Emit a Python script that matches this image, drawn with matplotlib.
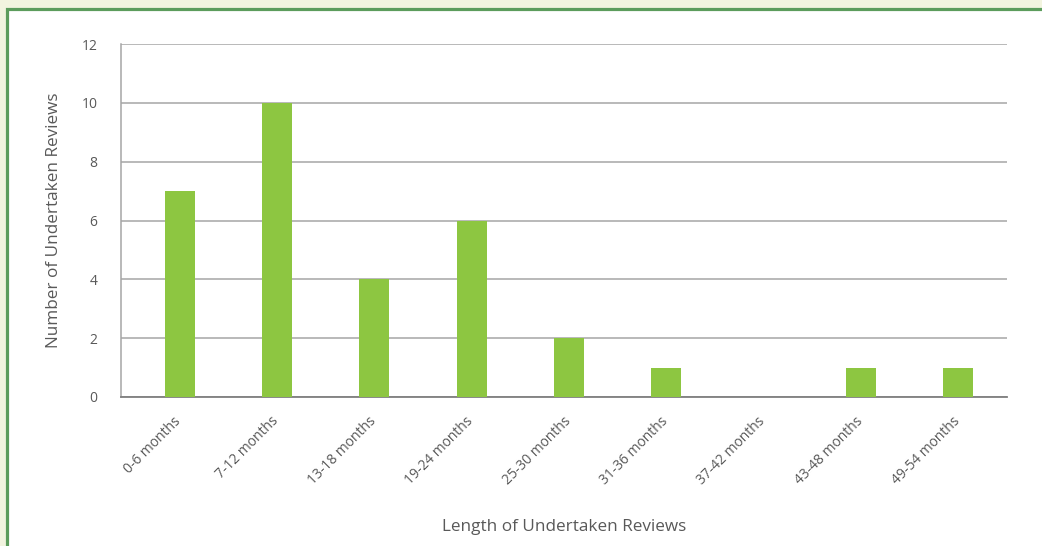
import matplotlib.pyplot as plt
import matplotlib.transforms as mtransforms
from matplotlib.patches import Rectangle

plt.rcParams['font.family'] = ['Open Sans', 'DejaVu Sans']

categories = ['0-6 months', '7-12 months', '13-18 months', '19-24 months',
              '25-30 months', '31-36 months', '37-42 months', '43-48 months',
              '49-54 months']
reviews = [7, 10, 4, 6, 2, 1, 0, 1, 1]
yticks = [0, 2, 4, 6, 8, 10, 12]

W, H = 1042, 546
fig = plt.figure(figsize=(W / 100, H / 100), dpi=100, facecolor='#f2f4df')

# white panel with green frame (left and top edges visible)
panel = Rectangle((6.5 / W, -0.1), 1.2, (H - 8.5) / H + 0.1,
                  transform=fig.transFigure, facecolor='white',
                  edgecolor='#5c9c5c', linewidth=2.3, zorder=-5)
fig.patches.append(panel)

ax = fig.add_axes([121 / W, 1 - 397 / H, (1007 - 121) / W, (397 - 44) / H])
ax.set_facecolor('none')
ax.set_zorder(1)

x = list(range(len(categories)))
ax.bar(x, reviews, width=0.31, color='#8dc641', zorder=3)

ax.set_xlim(-0.603, 8.5)
ax.set_ylim(0, 12)
ax.set_yticks(yticks)
ax.yaxis.grid(True, color='#a6a6a6', linewidth=1.1, zorder=0)
ax.set_axisbelow(True)

ax.set_xticks(x)
ax.set_xticklabels(categories, rotation=45, ha='right', rotation_mode='anchor')
ax.tick_params(axis='both', length=0, labelsize=10, labelcolor='#595959')
ax.tick_params(axis='x', pad=12)
ax.tick_params(axis='y', pad=17)
shift = mtransforms.ScaledTranslation(-6 / 100, 0, fig.dpi_scale_trans)
for lbl in ax.get_xticklabels():
    lbl.set_transform(lbl.get_transform() + shift)

for side in ['top', 'right']:
    ax.spines[side].set_visible(False)
ax.spines['left'].set_color('#a6a6a6')
ax.spines['left'].set_linewidth(1.1)
ax.spines['bottom'].set_color('#7f7f7f')
ax.spines['bottom'].set_linewidth(1.3)

ax.set_ylabel('Number of Undertaken Reviews', fontsize=12.3, color='#595959', labelpad=0)
ax.yaxis.set_label_coords(-59 / 886, 0.5)
ax.set_xlabel('Length of Undertaken Reviews', fontsize=12.3, color='#595959')
ax.xaxis.set_label_coords(0.5, -(519 - 397) / 353)

fig.savefig('out.png', dpi=100, facecolor=fig.get_facecolor())
